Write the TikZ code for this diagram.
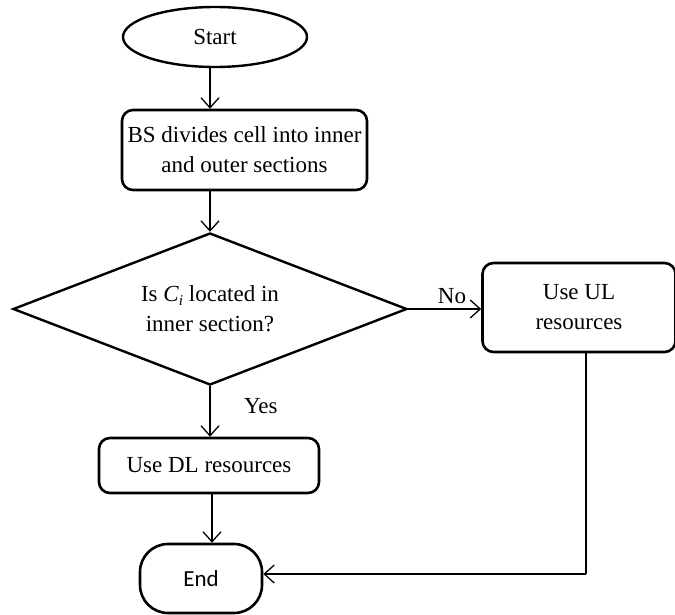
\documentclass[tikz,border=0pt]{standalone}
\usepackage{fontspec}
\setmainfont{Liberation Serif}
\newfontfamily\endfont{Carlito}
\usetikzlibrary{shapes.geometric,arrows.meta}
\begin{document}
\begin{tikzpicture}[x=1pt,y=-1pt,
  font=\fontsize{23}{30}\selectfont,
  box/.style={draw,line width=2.6pt,rounded corners=11pt,align=center,inner sep=0pt},
  link/.style={line width=1.4pt,-{Straight Barb[length=10pt,width=18pt,line width=1.3pt]}},
  plain/.style={line width=1.4pt}]
\useasboundingbox (0,0) rectangle (675,615);
% terminals
\node[draw,ellipse,line width=2.4pt,minimum width=184pt,minimum height=60pt,inner sep=0pt] (start) at (215,37) {Start};
\node[box,rounded corners=28pt,minimum width=122pt,minimum height=69pt] (end) at (201,578.5) {\endfont End};
% process boxes
\node[box,minimum width=245pt,minimum height=80pt] (divide) at (244.5,150) {BS divides cell into inner\\and outer sections};
\node[box,minimum width=193pt,minimum height=89pt] (ul) at (579,307.5) {Use UL\\resources};
\node[box,minimum width=220pt,minimum height=55pt] (dl) at (209,465.5) {Use DL resources};
% decision
\node[draw,diamond,line width=2.4pt,minimum width=394pt,minimum height=152pt,inner sep=0pt,aspect=2.6,align=center] (test) at (210,309) {Is \textit{C}\raisebox{-0.35ex}{\fontsize{15}{15}\selectfont\textit{i}} located in\\inner section?};
% connectors
\draw[link] (start.south -| 210,0) -- (210,0 |- divide.north);
\draw[link] (divide.south -| test.north) -- (test.north);
\draw[link] (test.east) -- (test.east -| ul.west) node[pos=0.6,above=1pt] {No};
\draw[link] (test.south) -- (test.south |- dl.north) node[pos=0.4,right=30pt] {Yes};
\draw[link] (dl.south -| 212,0) -- (212,0 |- end.north);
\coordinate (turn) at (586,574);
\draw[plain] (ul.south -| turn) -- (turn);
\draw[link] (turn) -- (turn -| end.east);
\end{tikzpicture}
\end{document}
